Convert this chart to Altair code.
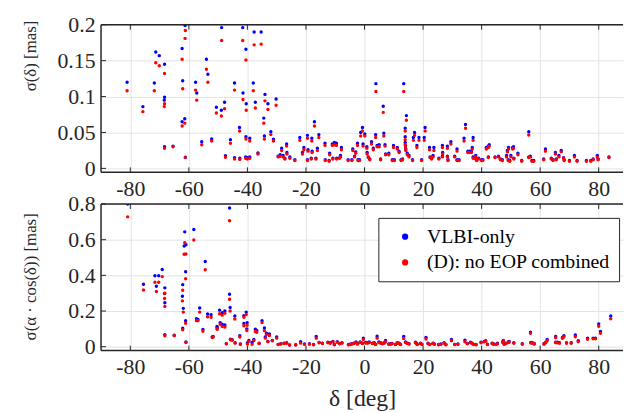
import altair as alt
import pandas as pd

# ---------------- data ----------------
series_names = ["VLBI-only", "(D): no EOP combined"]
series_colors = ["#0000ff", "#ff0000"]

# top panel: sigma(delta) [mas]
dec_top = [-81.1, -75.7, -71.3, -70.1, -71.8, -68.3, -68.3, -68.4, -68.3, -65.4,
           -62.3, -62.1, -62.3, -61.4, -61.3, -61.2, -61.2, -57.7, -57.3, -55.6,
           -54.0, -53.5, -52.2, -50.6, -48.9, -48.8, -47.8, -47.5, -45.8, -44.4,
           -44.4, -42.7, -42.6, -41.6, -41.5, -40.5, -40.4, -40.5, -40.6, -40.0,
           -39.2, -39.2, -38.0, -37.7, -37.3, -36.4, -35.3, -34.4, -34.2, -34.0,
           -33.0, -32.0, -31.1, -30.2, -29.5, -28.8, -28.3, -27.8, -27.2, -26.6,
           -26.5, -25.5, -23.8, -22.1, -21.2, -20.7, -19.5, -19.3, -19.5, -18.0,
           -18.2, -17.9, -17.1, -16.6, -16.1, -15.6, -13.5, -13.4, -12.1, -11.9,
           -11.0, -10.3, -9.6, -10.8, -9.5, -8.5, -8.2, -7.9, -5.6, -4.3,
           -4.0, -3.4, -3.0, -2.4, -2.2, -1.7, -1.3, -0.7, -0.5, 0.1,
           0.8, 0.9, 1.3, 1.8, 2.4, 3.0, 3.9, 3.8, 4.3, 5.0,
           5.5, 6.4, 6.6, 7.0, 7.2, 8.3, 9.9, 9.5, 10.2, 11.2,
           11.8, 12.5, 13.0, 13.4, 13.9, 14.3, 13.9, 13.9, 14.0, 14.1,
           14.6, 15.2, 16.4, 16.7, 17.1, 17.9, 18.6, 19.5, 20.4, 20.7,
           22.2, 22.4, 22.9, 23.4, 23.7, 25.4, 26.6, 26.6, 26.7, 28.3,
           28.3, 28.5, 29.5, 30.8, 31.6, 31.6, 32.3, 34.0, 34.5, 35.3,
           35.9, 36.5, 36.8, 37.1, 37.1, 38.0, 38.0, 38.3, 39.0, 40.0,
           40.4, 41.6, 42.3, 42.6, 42.3, 44.6, 45.8, 46.4, 47.1, 48.5,
           48.8, 49.2, 49.1, 49.6, 50.0, 50.6, 50.9, 51.0, 52.4, 53.7,
           56.1, 56.1, 56.7, 57.2, 57.8, 61.2, 61.8, 63.8, 64.4, 65.2,
           65.5, 66.4, 67.2, 68.0, 68.2, 70.0, 71.7, 72.6, 75.8, 77.3,
           78.1, 79.5, 79.8, 83.5]
sd_vlbi = [0.120, 0.086, 0.162, 0.157, 0.119, 0.145, 0.099, 0.095, 0.030, 0.031,
           0.167, 0.122, 0.065, 0.069, 0.199, 0.215, 0.0156, 0.120, 0.105, 0.037,
           0.152, 0.131, 0.041, 0.085, 0.081, 0.196, 0.092, 0.0175, 0.040, 0.119,
           0.015, 0.057, 0.014, 0.196, 0.105, 0.166, 0.090, 0.044, 0.016, 0.015,
           0.042, 0.016, 0.119, 0.190, 0.092, 0.0215, 0.190, 0.070, 0.045, 0.103,
           0.090, 0.051, 0.0405, 0.0965, 0.017, 0.019, 0.028, 0.018, 0.014, 0.034,
           0.022, 0.016, 0.012, 0.043, 0.022, 0.029, 0.046, 0.026, 0.012, 0.042,
           0.014, 0.024, 0.065, 0.014, 0.028, 0.047, 0.035, 0.012, 0.011, 0.021,
           0.034, 0.036, 0.035, 0.014, 0.014, 0.015, 0.018, 0.029, 0.012, 0.012,
           0.027, 0.017, 0.023, 0.035, 0.012, 0.012, 0.050, 0.057, 0.034, 0.048,
           0.030, 0.022, 0.016, 0.013, 0.037, 0.028, 0.118, 0.047, 0.032, 0.033,
           0.013, 0.0865, 0.049, 0.033, 0.020, 0.021, 0.032, 0.012, 0.012, 0.029,
           0.024, 0.012, 0.013, 0.118, 0.056, 0.0735, 0.044, 0.036, 0.032, 0.027,
           0.021, 0.018, 0.012, 0.043, 0.050, 0.032, 0.043, 0.012, 0.043, 0.057,
           0.029, 0.016, 0.014, 0.018, 0.029, 0.014, 0.032, 0.017, 0.022, 0.031,
           0.017, 0.012, 0.037, 0.017, 0.027, 0.012, 0.012, 0.042, 0.061, 0.024,
           0.024, 0.024, 0.029, 0.043, 0.016, 0.018, 0.014, 0.012, 0.014, 0.012,
           0.012, 0.029, 0.031, 0.033, 0.016, 0.016, 0.017, 0.013, 0.012, 0.018,
           0.025, 0.029, 0.012, 0.011, 0.018, 0.029, 0.030, 0.014, 0.021, 0.011,
           0.051, 0.016, 0.017, 0.011, 0.011, 0.013, 0.027, 0.014, 0.012, 0.022,
           0.013, 0.018, 0.025, 0.015, 0.012, 0.011, 0.018, 0.011, 0.011, 0.011,
           0.013, 0.018, 0.013, 0.016]
sd_comb = [0.108, 0.079, 0.147, 0.143, 0.108, 0.132, 0.090, 0.086, 0.028, 0.030,
           0.152, 0.111, 0.059, 0.063, 0.181, 0.192, 0.0150, 0.109, 0.095, 0.033,
           0.138, 0.120, 0.038, 0.077, 0.073, 0.178, 0.083, 0.0156, 0.035, 0.109,
           0.013, 0.052, 0.0125, 0.178, 0.096, 0.151, 0.081, 0.041, 0.014, 0.013,
           0.038, 0.014, 0.108, 0.172, 0.084, 0.020, 0.173, 0.063, 0.041, 0.094,
           0.082, 0.047, 0.038, 0.088, 0.016, 0.017, 0.025, 0.016, 0.013, 0.031,
           0.020, 0.014, 0.011, 0.039, 0.020, 0.026, 0.042, 0.024, 0.011, 0.038,
           0.013, 0.022, 0.059, 0.013, 0.025, 0.043, 0.032, 0.011, 0.010, 0.019,
           0.032, 0.033, 0.032, 0.013, 0.013, 0.014, 0.016, 0.026, 0.011, 0.011,
           0.025, 0.016, 0.021, 0.032, 0.011, 0.011, 0.045, 0.052, 0.031, 0.045,
           0.028, 0.020, 0.015, 0.012, 0.034, 0.026, 0.107, 0.043, 0.030, 0.030,
           0.012, 0.078, 0.045, 0.031, 0.019, 0.019, 0.029, 0.011, 0.011, 0.027,
           0.022, 0.011, 0.012, 0.107, 0.052, 0.067, 0.040, 0.033, 0.029, 0.025,
           0.019, 0.016, 0.011, 0.039, 0.046, 0.029, 0.039, 0.011, 0.039, 0.052,
           0.026, 0.015, 0.013, 0.016, 0.025, 0.013, 0.029, 0.016, 0.020, 0.028,
           0.016, 0.011, 0.034, 0.016, 0.024, 0.011, 0.011, 0.038, 0.056, 0.022,
           0.022, 0.022, 0.027, 0.039, 0.014, 0.016, 0.013, 0.011, 0.013, 0.011,
           0.011, 0.027, 0.029, 0.031, 0.015, 0.015, 0.016, 0.012, 0.011, 0.016,
           0.023, 0.027, 0.011, 0.010, 0.016, 0.027, 0.028, 0.013, 0.019, 0.010,
           0.0465, 0.015, 0.016, 0.010, 0.010, 0.012, 0.024, 0.013, 0.011, 0.020,
           0.012, 0.016, 0.023, 0.014, 0.011, 0.010, 0.016, 0.010, 0.010, 0.010,
           0.012, 0.016, 0.012, 0.015]

# bottom panel: sigma(alpha * cos(delta)) [mas]
dec_bot = [-80.9, -75.5, -71.6, -71.1, -70.3, -69.1, -68.2, -68.3, -68.2, -68.2,
           -65.0, -62.1, -62.2, -61.9, -62.1, -61.4, -61.0, -61.6, -61.1, -61.1,
           -61.0, -58.3, -57.4, -56.9, -56.3, -55.2, -54.4, -53.6, -52.4, -52.0,
           -51.7, -50.4, -50.3, -49.5, -49.3, -48.6, -48.6, -47.7, -47.7, -47.2,
           -46.1, -46.1, -45.9, -45.8, -45.2, -44.3, -44.2, -42.6, -42.4, -41.2,
           -41.2, -40.4, -40.1, -40.2, -40.0, -39.5, -38.4, -37.8, -37.3, -36.8,
           -36.0, -35.0, -34.2, -33.9, -32.5, -33.5, -33.0, -31.5, -30.0, -29.5,
           -28.6, -27.5, -26.6, -25.6, -23.5, -21.8, -20.5, -18.8, -17.4, -16.5,
           -15.5, -14.4, -12.5, -11.7, -10.8, -10.3, -9.3, -8.5, -7.7, -5.5,
           -4.9, -4.3, -3.6, -2.9, -2.4, -1.5, -0.7, -0.4, 0.4, 1.0,
           1.6, 2.7, 3.3, 3.8, 4.3, 4.9, 5.5, 6.1, 6.7, 7.2,
           8.3, 8.9, 9.4, 10.6, 11.2, 11.8, 12.3, 13.4, 14.0, 14.6,
           15.2, 17.4, 17.8, 18.0, 19.1, 19.6, 21.0, 21.7, 22.3, 23.4,
           23.9, 25.3, 26.1, 27.2, 27.8, 29.7, 30.8, 31.9, 34.3, 35.1,
           36.2, 36.8, 37.3, 38.1, 39.8, 40.9, 41.4, 42.0, 43.6, 44.0,
           44.9, 45.4, 47.2, 47.4, 47.7, 48.3, 49.2, 49.4, 51.0, 53.9,
           56.7, 56.8, 57.4, 58.0, 61.3, 61.9, 62.4, 65.3, 65.3, 66.0,
           66.6, 67.6, 68.1, 69.0, 70.6, 72.0, 73.0, 76.2, 78.1, 78.9,
           80.0, 80.6, 84.1]
sra_vlbi = [0.800, 0.350, 0.398, 0.339, 0.398, 0.433, 0.330, 0.298, 0.246, 0.067,
            0.064, 0.348, 0.283, 0.215, 0.104, 0.644, 0.572, 0.565, 0.420, 0.146,
            0.026, 0.657, 0.157, 0.152, 0.217, 0.096, 0.478, 0.183, 0.180, 0.054,
            0.058, 0.113, 0.107, 0.205, 0.135, 0.190, 0.126, 0.200, 0.122, 0.017,
            0.778, 0.294, 0.220, 0.042, 0.039, 0.172, 0.022, 0.061, 0.015, 0.174,
            0.130, 0.194, 0.135, 0.100, 0.022, 0.035, 0.024, 0.040, 0.098, 0.091,
            0.020, 0.146, 0.105, 0.054, 0.072, 0.075, 0.030, 0.035, 0.054, 0.013,
            0.017, 0.020, 0.022, 0.010, 0.011, 0.028, 0.015, 0.016, 0.012, 0.057,
            0.024, 0.020, 0.025, 0.022, 0.030, 0.012, 0.028, 0.018, 0.022, 0.012,
            0.014, 0.017, 0.020, 0.026, 0.016, 0.026, 0.020, 0.048, 0.024, 0.022,
            0.026, 0.020, 0.022, 0.014, 0.059, 0.026, 0.022, 0.018, 0.022, 0.035,
            0.015, 0.016, 0.018, 0.013, 0.022, 0.020, 0.013, 0.057, 0.026, 0.020,
            0.017, 0.025, 0.019, 0.013, 0.020, 0.014, 0.052, 0.019, 0.013, 0.020,
            0.015, 0.012, 0.015, 0.022, 0.012, 0.040, 0.013, 0.015, 0.037, 0.018,
            0.025, 0.020, 0.013, 0.012, 0.025, 0.030, 0.033, 0.014, 0.020, 0.016,
            0.013, 0.019, 0.027, 0.035, 0.015, 0.020, 0.026, 0.030, 0.022, 0.016,
            0.081, 0.024, 0.022, 0.017, 0.016, 0.025, 0.040, 0.058, 0.025, 0.025,
            0.022, 0.052, 0.062, 0.022, 0.022, 0.066, 0.034, 0.048, 0.048, 0.048,
            0.128, 0.085, 0.172]
sra_comb = [0.728, 0.318, 0.361, 0.309, 0.361, 0.393, 0.300, 0.270, 0.226, 0.061,
            0.061, 0.317, 0.257, 0.194, 0.095, 0.583, 0.520, 0.518, 0.381, 0.131,
            0.024, 0.598, 0.146, 0.146, 0.194, 0.087, 0.431, 0.168, 0.165, 0.052,
            0.055, 0.100, 0.098, 0.185, 0.126, 0.177, 0.113, 0.187, 0.110, 0.016,
            0.706, 0.266, 0.200, 0.039, 0.036, 0.155, 0.020, 0.054, 0.014, 0.165,
            0.117, 0.181, 0.120, 0.091, 0.015, 0.030, 0.013, 0.035, 0.085, 0.081,
            0.018, 0.135, 0.090, 0.048, 0.063, 0.068, 0.028, 0.033, 0.048, 0.012,
            0.015, 0.018, 0.019, 0.009, 0.010, 0.020, 0.013, 0.014, 0.011, 0.048,
            0.022, 0.018, 0.022, 0.019, 0.027, 0.011, 0.025, 0.016, 0.020, 0.011,
            0.013, 0.015, 0.018, 0.023, 0.015, 0.024, 0.018, 0.040, 0.021, 0.020,
            0.023, 0.018, 0.020, 0.012, 0.048, 0.023, 0.020, 0.016, 0.020, 0.028,
            0.013, 0.014, 0.016, 0.012, 0.019, 0.018, 0.012, 0.046, 0.023, 0.018,
            0.015, 0.022, 0.017, 0.012, 0.018, 0.013, 0.043, 0.017, 0.012, 0.018,
            0.013, 0.011, 0.013, 0.020, 0.011, 0.033, 0.012, 0.014, 0.028, 0.016,
            0.022, 0.018, 0.012, 0.011, 0.022, 0.027, 0.030, 0.012, 0.018, 0.014,
            0.012, 0.017, 0.024, 0.032, 0.013, 0.018, 0.023, 0.027, 0.020, 0.014,
            0.075, 0.021, 0.020, 0.015, 0.014, 0.022, 0.035, 0.050, 0.022, 0.022,
            0.020, 0.047, 0.054, 0.019, 0.019, 0.056, 0.028, 0.042, 0.044, 0.044,
            0.115, 0.075, 0.156]

x_ticks = [-80, -60, -40, -20, 0, 20, 40, 60, 80]
y_ticks_top = [0, 0.05, 0.1, 0.15, 0.2]
y_ticks_bot = [0, 0.2, 0.4, 0.6, 0.8]

# ---------------- layout ----------------
W = 527
H_TOP = 149
H_BOT = 148
X_DOMAIN = [-90, 88.3]
FONT = "Liberation Serif"
DARK = "#262626"


def long_frame(dec, blue, red):
    a = pd.DataFrame({"dec": dec, "val": blue, "series": series_names[0]})
    b = pd.DataFrame({"dec": dec, "val": red, "series": series_names[1]})
    return pd.concat([a, b], ignore_index=True)


def panel(df, ydomain, yticks, ytitle, h, xtitle, legend, title_y):
    if xtitle is None:
        xaxis = alt.Axis(values=x_ticks, labelExpr="'' + datum.value", title=None,
                         grid=True)
    else:
        xaxis = alt.Axis(values=x_ticks, labelExpr="'' + datum.value", title=xtitle,
                         grid=True)
    yaxis = alt.Axis(values=yticks, format="~g", title=ytitle, grid=True,
                     titleX=-71, titleY=title_y, titleBaseline="middle",
                     titleAlign="center")
    xs = alt.Scale(domain=X_DOMAIN, nice=False, zero=False)
    ys = alt.Scale(domain=ydomain, nice=False, zero=False)
    pts = alt.Chart(df).mark_circle(size=12, opacity=1, clip=True).encode(
        x=alt.X("dec:Q", scale=xs, axis=xaxis),
        y=alt.Y("val:Q", scale=ys, axis=yaxis),
        color=alt.Color("series:N",
                        scale=alt.Scale(domain=series_names, range=series_colors),
                        sort=series_names, legend=legend),
    )
    one = pd.DataFrame({"k": [0]})
    top_b = alt.Chart(one).mark_rule(color=DARK, strokeWidth=1.5).encode(
        x=alt.value(0), x2=alt.value(W), y=alt.value(0))
    bot_b = alt.Chart(one).mark_rule(color=DARK, strokeWidth=1.5).encode(
        x=alt.value(0), x2=alt.value(W), y=alt.value(h))
    left_b = alt.Chart(one).mark_rule(color=DARK, strokeWidth=1.5).encode(
        x=alt.value(0), y=alt.value(0), y2=alt.value(h))
    xt = pd.DataFrame({"dec": x_ticks})
    yt = pd.DataFrame({"val": yticks})
    xt_top = alt.Chart(xt).mark_rule(color=DARK, strokeWidth=1).encode(
        x=alt.X("dec:Q", scale=xs, axis=xaxis), y=alt.value(0), y2=alt.value(5))
    xt_bot = alt.Chart(xt).mark_rule(color=DARK, strokeWidth=1).encode(
        x=alt.X("dec:Q", scale=xs, axis=xaxis), y=alt.value(h - 5), y2=alt.value(h))
    yt_left = alt.Chart(yt).mark_rule(color=DARK, strokeWidth=1).encode(
        y=alt.Y("val:Q", scale=ys, axis=yaxis), x=alt.value(0), x2=alt.value(5))
    return alt.layer(pts, xt_top, xt_bot, yt_left, top_b, bot_b, left_b).properties(
        width=W, height=h)


top = panel(long_frame(dec_top, sd_vlbi, sd_comb), [-0.0055, 0.2], y_ticks_top,
            "σ(δ)  [mas]", H_TOP, None, None, 31)

legend = alt.Legend(orient="none", legendX=280, legendY=14, title=None,
                    labelFont=FONT, labelFontSize=20, labelColor="#000000",
                    labelLimit=400,
                    symbolType="circle", symbolSize=40, symbolStrokeWidth=0,
                    padding=9, rowPadding=6, labelOffset=12, symbolOffset=8,
                    strokeColor=DARK, fillColor="#ffffff")
bottom = panel(long_frame(dec_bot, sra_vlbi, sra_comb), [-0.022, 0.8], y_ticks_bot,
               "σ(α · cos(δ))  [mas]", H_BOT, "δ  [deg]", legend, 73)

chart = alt.vconcat(top, bottom, spacing=32, bounds="flush").resolve_scale(
    color="independent").resolve_legend(color="independent").properties(
    padding={"left": 21, "top": 11, "right": 0, "bottom": 0}
).configure(font=FONT).configure_view(stroke="transparent").configure_axis(
    labelFont=FONT, labelFontSize=22, labelColor=DARK, labelPadding=6,
    titleFont=FONT, titleFontSize=17, titleFontWeight="normal", titleColor=DARK,
    gridColor="#e3e3e3", gridWidth=1, domain=False, ticks=False
).configure_axisX(titleFontSize=24, titlePadding=9)

chart.save("out.html", embed_options={"renderer": "svg", "actions": False})
